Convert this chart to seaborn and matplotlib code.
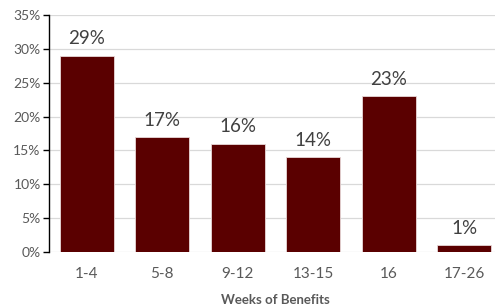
import matplotlib
matplotlib.use("Agg")
import matplotlib.pyplot as plt
import seaborn as sns
import pandas as pd
from matplotlib.ticker import PercentFormatter, MultipleLocator

categories = ["1-4", "5-8", "9-12", "13-15", "16", "17-26"]
values = [29, 17, 16, 14, 23, 1]
labels = ["29%", "17%", "16%", "14%", "23%", "1%"]

df = pd.DataFrame({"weeks": categories, "pct": values})

sns.set_style("white")
plt.rcParams["font.family"] = ["Lato", "DejaVu Sans"]

fig = plt.figure(figsize=(4.95, 3.05), dpi=100)
ax = fig.add_axes([49/495, 53/305, 453/495, 237/305])

sns.barplot(data=df, x="weeks", y="pct", color="#5a0000", width=0.72,
            edgecolor="#e8d8d8", linewidth=0.6, saturation=1, ax=ax, zorder=3)

ax.set_ylim(0, 35)
ax.set_xlim(-0.5, 5.5)
ax.yaxis.set_major_locator(MultipleLocator(5))
ax.yaxis.set_major_formatter(PercentFormatter(decimals=0))
ax.grid(axis="y", color="#d9d9d9", linewidth=0.9, zorder=0)
ax.set_axisbelow(True)

for s in ["top", "right", "bottom"]:
    ax.spines[s].set_visible(False)
ax.spines["left"].set_color("black")
ax.spines["left"].set_linewidth(1.0)
ax.spines["left"].set_zorder(5)

ax.tick_params(axis="y", length=4, width=1, color="black", labelsize=10,
               labelcolor="#595959", pad=2, left=True)
ax.tick_params(axis="x", length=0, labelsize=11, labelcolor="#595959", pad=11)

for i, (v, lab) in enumerate(zip(values, labels)):
    ax.annotate(lab, (i, v), xytext=(0, 6), textcoords="offset points",
                ha="center", va="bottom", fontsize=13.5, color="#404040")

ax.set_xlabel("Weeks of Benefits", fontsize=9.5, fontweight="bold",
              color="#595959", labelpad=9)
ax.set_ylabel("")

fig.savefig("out.png", dpi=100)
